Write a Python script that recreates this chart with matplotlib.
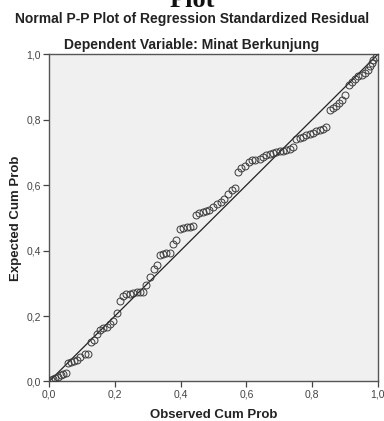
import numpy as np
import matplotlib.pyplot as plt

# observed cum prob (x) and expected cum prob (y)
observed = [
    0.005, 0.012, 0.019, 0.027, 0.036, 0.043, 0.050,
    0.057, 0.066, 0.076, 0.086, 0.094, 0.108, 0.117,
    0.127, 0.137, 0.147, 0.154, 0.164, 0.175, 0.185, 0.195,
    0.205,
    0.215, 0.225, 0.235, 0.246, 0.256, 0.266, 0.276, 0.286,
    0.296, 0.307, 0.318, 0.327,
    0.337, 0.347, 0.357, 0.367,
    0.376, 0.386,
    0.398, 0.408, 0.418, 0.428, 0.437,
    0.447, 0.457, 0.467, 0.477, 0.487, 0.499, 0.510, 0.522, 0.532, 0.545, 0.555, 0.565,
    0.574, 0.585, 0.595, 0.607, 0.617, 0.627, 0.640, 0.651, 0.661, 0.671, 0.681, 0.691,
    0.701, 0.711, 0.721, 0.732, 0.742, 0.752, 0.762, 0.772, 0.782, 0.793, 0.803, 0.813,
    0.823, 0.833, 0.843,
    0.855, 0.865, 0.873, 0.883, 0.890, 0.900,
    0.912, 0.921, 0.931, 0.941, 0.951, 0.961, 0.971, 0.976, 0.981, 0.986, 0.993,
]
expected = [
    0.005, 0.007, 0.010, 0.015, 0.019, 0.023, 0.027,
    0.056, 0.058, 0.062, 0.066, 0.074, 0.083, 0.085,
    0.121, 0.126, 0.145, 0.157, 0.162, 0.167, 0.177, 0.185,
    0.209,
    0.246, 0.260, 0.266, 0.268, 0.270, 0.272, 0.274, 0.274,
    0.295, 0.318, 0.343, 0.355,
    0.385, 0.390, 0.392, 0.392,
    0.420, 0.433,
    0.466, 0.469, 0.471, 0.473, 0.476,
    0.510, 0.514, 0.517, 0.520, 0.524, 0.534, 0.542, 0.550, 0.558, 0.573, 0.585, 0.591,
    0.641, 0.651, 0.659, 0.671, 0.676, 0.677, 0.681, 0.687, 0.692, 0.694, 0.697, 0.700,
    0.703, 0.705, 0.708, 0.710, 0.718, 0.740, 0.745, 0.748, 0.752, 0.755, 0.760, 0.765,
    0.768, 0.772, 0.778,
    0.829, 0.837, 0.842, 0.852, 0.859, 0.877,
    0.905, 0.915, 0.925, 0.933, 0.938, 0.943, 0.953, 0.963, 0.973, 0.984, 0.992,
]
ticks = [0.0, 0.2, 0.4, 0.6, 0.8, 1.0]
tick_labels = ['0,0', '0,2', '0,4', '0,6', '0,8', '1,0']

plt.rcParams['font.family'] = ['Liberation Sans', 'DejaVu Sans']

fig = plt.figure(figsize=(3.84, 4.21), dpi=100)
ax = fig.add_axes([0.128, 0.094, 0.856, 0.777])
ax.set_facecolor('#f0f0f0')

ax.plot([0, 1], [0, 1], color='#222222', lw=0.9, zorder=2)
ax.plot(observed, expected, 'o', ms=5, mfc='none', mec='#3a3a3a', mew=0.7, zorder=3)

ax.set_xlim(0, 1)
ax.set_ylim(0, 1)
ax.set_xticks(ticks)
ax.set_xticklabels(tick_labels)
ax.set_yticks(ticks)
ax.set_yticklabels(tick_labels)
ax.tick_params(length=4, width=0.9, color='#444444', labelsize=7.5, labelcolor='#444444', pad=2)
for s in ax.spines.values():
    s.set_color('#555555')
    s.set_linewidth(1.0)

ax.set_xlabel('Observed Cum Prob', fontsize=9.5, fontweight='bold', color='#222222', va='center')
ax.set_ylabel('Expected Cum Prob', fontsize=9.5, fontweight='bold', color='#222222', va='center')
ax.xaxis.set_label_coords(0.5, -0.104)
ax.yaxis.set_label_coords(-0.1, 0.5)

fig.text(0.5, 0.955, 'Normal P-P Plot of Regression Standardized Residual',
         ha='center', va='center', fontsize=10, fontweight='bold', color='#222222')
fig.text(0.5, 0.893, 'Dependent Variable: Minat Berkunjung',
         ha='center', va='center', fontsize=10, fontweight='bold', color='#222222')
# header from the page above, cut off at the top edge as in the source
fig.text(0.5, 0.984, 'Plot', ha='center', va='baseline', fontsize=19, fontweight='bold',
         family=['Liberation Serif', 'DejaVu Serif'], color='#111111')

fig.savefig('out.png', dpi=100)
